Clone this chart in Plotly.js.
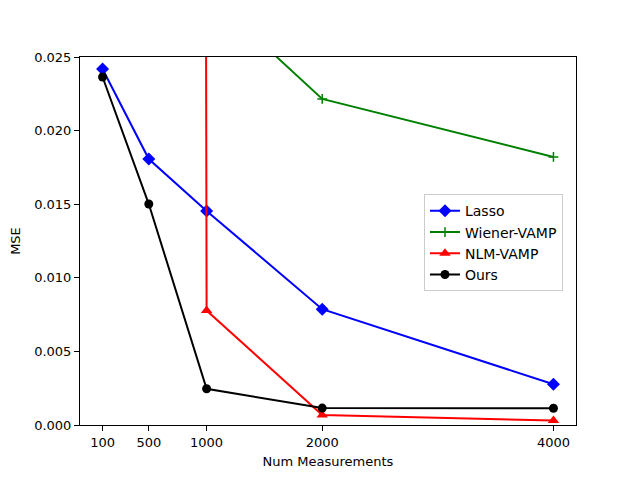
<!DOCTYPE html>
<html>
<head>
<meta charset="utf-8">
<script src="https://cdn.plot.ly/plotly-3.0.1.min.js"></script>
<style>
  html, body { margin: 0; padding: 0; background: #fff; }
  #chart { width: 640px; height: 478px; }
</style>
</head>
<body>
<div id="chart"></div>
<script>
/* ── Data ────────────────────────────────────────────────── */
const numMeasurements = [100, 500, 1000, 2000, 4000];
const xTickVals = [100, 500, 1000, 2000, 4000];

const lassoMSE  = [0.02418, 0.01807, 0.01454, 0.00787, 0.00277];
// first points sit above the visible range in the picture
const wienerMSE = [0.060, 0.045, 0.0294, 0.02215, 0.01821];
const nlmMSE    = [3.0, 2.0, 0.00778, 0.00068, 0.00030];
const oursMSE   = [0.02364, 0.01501, 0.00246, 0.00115, 0.00114];

const FONT = 'DejaVu Sans, sans-serif';

function series(name, y, color, marker) {
  return {
    x: numMeasurements, y: y, name: name,
    type: 'scatter', mode: 'lines+markers',
    line: { color: color, width: 2 },
    marker: Object.assign({ color: color }, marker),
    cliponaxis: true
  };
}

const traces = [
  series('Lasso', lassoMSE, '#0000ff', { symbol: 'diamond', size: 10 }),
  series('Wiener-VAMP', wienerMSE, '#008000',
    { symbol: 'cross-thin', size: 7, line: { color: '#008000', width: 1.5 } }),
  series('NLM-VAMP', nlmMSE, '#ff0000', { symbol: 'triangle-up', size: 10 }),
  series('Ours', oursMSE, '#000000', { symbol: 'circle', size: 9 })
];

const axisBase = {
  showline: true, mirror: true, linecolor: '#000', linewidth: 1,
  showgrid: false, zeroline: false,
  ticks: 'outside', ticklen: 5, tickwidth: 1, tickcolor: '#000',
  tickfont: { family: FONT, size: 13, color: '#000' }
};

const layout = {
  width: 640, height: 478,
  font: { family: FONT, size: 13, color: '#000' },
  paper_bgcolor: '#fff', plot_bgcolor: '#fff',
  margin: { l: 80, r: 64, t: 57, b: 53 },
  showlegend: true,
  legend: {
    x: 0.6935, y: 0.627, xanchor: 'left', yanchor: 'top',
    bgcolor: 'rgba(255,255,255,0.8)', bordercolor: '#cccccc', borderwidth: 1,
    font: { family: FONT, size: 14, color: '#000' },
    tracegroupgap: 0, itemwidth: 30
  },
  xaxis: Object.assign({}, axisBase, {
    range: [-95, 4195],
    tickmode: 'array', tickvals: xTickVals, ticktext: xTickVals.map(String),
    title: { text: 'Num Measurements', font: { family: FONT, size: 13 }, standoff: 8 }
  }),
  yaxis: Object.assign({}, axisBase, {
    range: [0, 0.025],
    dtick: 0.005, tickformat: '.3f',
    title: { text: 'MSE', font: { family: FONT, size: 13 }, standoff: 10 }
  })
};

Plotly.newPlot('chart', traces, layout, { displayModeBar: false, staticPlot: true });
</script>
</body>
</html>
